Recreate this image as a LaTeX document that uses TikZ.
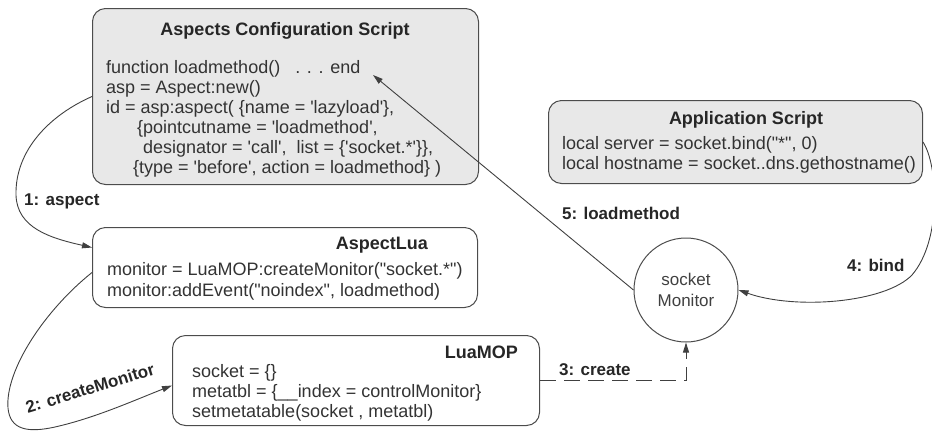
\documentclass[tikz,border=0pt]{standalone}
\usepackage{fontspec}
\newfontfamily\codefont{Liberation Sans}
\usetikzlibrary{arrows.meta,positioning}
\tikzset{
  box/.style={draw=black!70, line width=1pt, rounded corners=13pt, anchor=north west, inner sep=0pt},
  code/.style={anchor=base west, inner sep=0pt, text=black!80, font=\codefont\fontsize{18}{21}\selectfont},
  ttl/.style={anchor=base, inner sep=0pt, text=black!85, font=\codefont\bfseries\fontsize{18}{21}\selectfont},
  lbl/.style={anchor=west, inner sep=0pt, text=black!85, font=\codefont\bfseries\fontsize{17}{20}\selectfont},
  link/.style={draw=black!75, line width=0.9pt, -{Triangle[length=10pt,width=6pt]}},
}
\begin{document}
\begin{tikzpicture}[x=1pt,y=-1pt]
  \useasboundingbox (0,0) rectangle (932,432);
  % Boites
  \node[box, fill=black!9, minimum width=386pt, minimum height=176pt] (acs) at (92,8) {};
  \node[box, minimum width=385pt, minimum height=80pt] (al) at (92,227) {};
  \node[box, minimum width=367pt, minimum height=90pt] (lm) at (172,335) {};
  \node[box, fill=black!9, minimum width=374pt, minimum height=83pt] (app) at (548,100) {};
  \node[circle, draw=black!70, line width=1pt, minimum size=104pt, inner sep=0pt, align=center,
        text=black!75, font=\codefont\fontsize{17}{21}\selectfont] (sm) at (686,290) {socket\\Monitor};
  % Titres
  \node[ttl] (acst) at (285,35) {Aspects Configuration Script};
  \node[ttl, anchor=base east] (alt) at (428,249) {AspectLua};
  \node[ttl, anchor=base east] (lmt) at (518,358) {LuaMOP};
  \node[ttl] (appt) at (746,124) {Application Script};
  % Code
  \foreach \x/\y/\txt [count=\i] in {106/73/{function loadmethod()\ \ \ . . . end},
      106/93/{asp = Aspect:new()},
      106/113/{id = asp:aspect( \{name = 'lazyload'\},},
      137/133/{\{pointcutname = 'loadmethod',},
      143/153/{designator = 'call',\ \ list = \{'socket.*'\}\},},
      133/173/{\{type = 'before', action = loadmethod\} )}}{
    \node[code] (acs\i) at (\x,\y) {\txt};
  }
  \foreach \y/\txt [count=\i] in {275/{monitor = LuaMOP:createMonitor("socket.*")},
      296/{monitor:addEvent("noindex", loadmethod)}}{
    \node[code] (al\i) at (107,\y) {\txt};
  }
  \foreach \y/\txt [count=\i] in {377/{socket = \{\}},
      397/{metatbl = \{\_\_index = controlMonitor\}},
      417/{setmetatable(socket , metatbl)}}{
    \node[code] (lm\i) at (192,\y) {\txt};
  }
  \foreach \y/\txt [count=\i] in {149/{local server = socket.bind("*", 0)},
      169/{local hostname = socket..dns.gethostname()}}{
    \node[code] (app\i) at (562,\y) {\txt};
  }
  % Etiquettes
  \node[lbl] (l1) at (24,201) {1: aspect};
  \node[lbl, anchor=center, rotate=17] (l2) at (90,388) {2: createMonitor};
  \node[lbl] (l3) at (559,370) {3: create};
  \node[lbl] (l4) at (847,265) {4: bind};
  \node[lbl] (l5) at (562,213) {5: loadmethod};
  % Liens
  \coordinate (fend) at (373,75);
  \draw[link] (acs.west) .. controls (50,115) and (15,150) .. (16,195)
    .. controls (17,228) and (50,238) .. ([yshift=20pt]al.west);
  \draw[link] ([yshift=-5pt]al.west) .. controls (45,310) and (5,370) .. (8,408)
    .. controls (10,430) and (28,433) .. (55,427)
    .. controls (95,418) and (135,400) .. ([yshift=-5pt]lm.west);
  \draw[link, dash pattern=on 16pt off 8pt] (lm.east) -| (sm.south);
  \draw[link] (app.east) .. controls (938,165) and (942,240) .. (912,275)
    .. controls (885,303) and (795,310) .. (sm.east);
  \draw[link] (sm.west) -- (fend);
\end{tikzpicture}
\end{document}
